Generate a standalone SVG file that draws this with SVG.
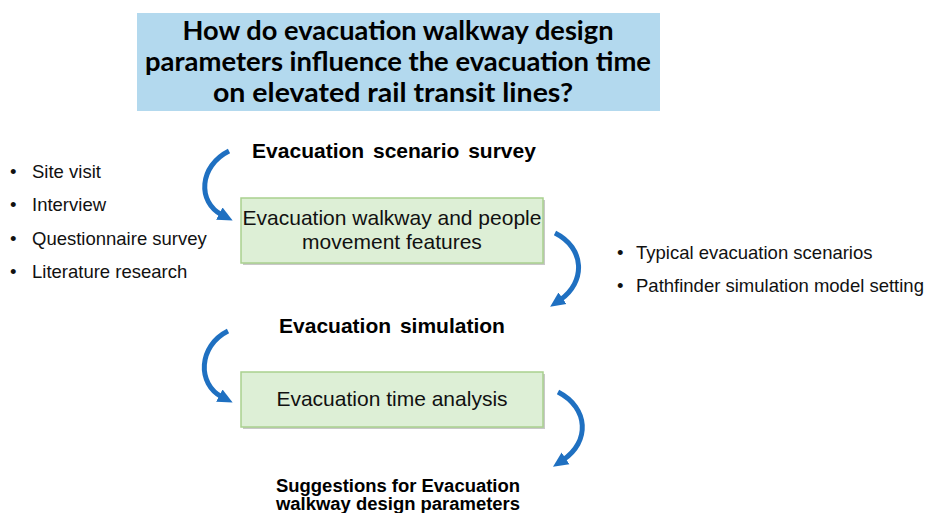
<svg xmlns="http://www.w3.org/2000/svg" width="927" height="513" viewBox="0 0 927 513">
<defs>
<style>
.title{font-family:"Lato","Open Sans","Liberation Sans",sans-serif;font-weight:bold;font-size:27px;fill:#000;text-anchor:middle}
.head{font-family:"Liberation Sans",Arial,sans-serif;font-weight:bold;font-size:21px;fill:#000;text-anchor:middle}
.head2{font-family:"Liberation Sans",Arial,sans-serif;font-weight:bold;font-size:18px;fill:#000;text-anchor:middle}
.box{fill:#DDEFD6;stroke:#A9D18E;stroke-width:1.5}
.shadow{fill:#C8C8C8}
.boxtxt{font-family:"Liberation Sans",Arial,sans-serif;font-size:21px;fill:#111;text-anchor:middle}
.bul{font-family:"Liberation Sans",Arial,sans-serif;font-size:18.5px;fill:#111}
.arc{fill:none;stroke:#1F70C1;stroke-width:5;marker-end:url(#ah)}
</style>
<marker id="ah" markerUnits="userSpaceOnUse" markerWidth="16" markerHeight="16" refX="3" refY="8" orient="auto">
<path d="M0,1 L15,8 L0,15 z" fill="#1F70C1"/>
</marker>
</defs>
<rect width="927" height="513" fill="#fff"/>
<g id="question">
<rect x="137" y="13" width="523" height="98" fill="#B3D9EE"/>
<text class="title" x="398" y="40" textLength="431" lengthAdjust="spacingAndGlyphs">How do evacuation walkway design</text>
<text class="title" x="398" y="71" textLength="506" lengthAdjust="spacingAndGlyphs">parameters influence the evacuation time</text>
<text class="title" x="393" y="102" textLength="360" lengthAdjust="spacingAndGlyphs">on elevated rail transit lines?</text>
</g>
<g id="survey-head">
<text class="head" x="394" y="158" word-spacing="3">Evacuation scenario survey</text>
</g>
<g id="survey-methods">
<text class="bul" x="10" y="178">•</text><text class="bul" x="32" y="178">Site visit</text>
<text class="bul" x="10" y="211">•</text><text class="bul" x="32" y="211">Interview</text>
<text class="bul" x="10" y="245">•</text><text class="bul" x="32" y="245">Questionnaire survey</text>
<text class="bul" x="10" y="278">•</text><text class="bul" x="32" y="278">Literature research</text>
</g>
<g id="features">
<rect class="shadow" x="243" y="200" width="302" height="65"/>
<rect class="box" x="241" y="198" width="302" height="65"/>
<text class="boxtxt" x="392" y="225">Evacuation walkway and people</text>
<text class="boxtxt" x="392" y="249">movement features</text>
</g>
<g id="simulation-setup">
<text class="bul" x="617" y="259">•</text><text class="bul" x="636" y="259">Typical evacuation scenarios</text>
<text class="bul" x="617" y="292">•</text><text class="bul" x="636" y="292">Pathfinder simulation model setting</text>
</g>
<g id="simulation-head">
<text class="head" x="392" y="333" word-spacing="3">Evacuation simulation</text>
</g>
<g id="time-analysis">
<rect class="shadow" x="243" y="374" width="302" height="55"/>
<rect class="box" x="241" y="372" width="302" height="55"/>
<text class="boxtxt" x="392" y="406">Evacuation time analysis</text>
</g>
<g id="suggestions">
<text class="head2" x="398" y="492" textLength="244" lengthAdjust="spacingAndGlyphs">Suggestions for Evacuation</text>
<text class="head2" x="398" y="510" textLength="244" lengthAdjust="spacingAndGlyphs">walkway design parameters</text>
</g>
<g id="connectors">
<path class="arc" d="M229,151 C199,166 197,202 222,215"/>
<path class="arc" d="M555,233 C585,248 586,282 560,300"/>
<path class="arc" d="M228,331 C198,346 197,384 222,397"/>
<path class="arc" d="M558,392 C589,408 590,442 563,460"/>
</g>
</svg>
